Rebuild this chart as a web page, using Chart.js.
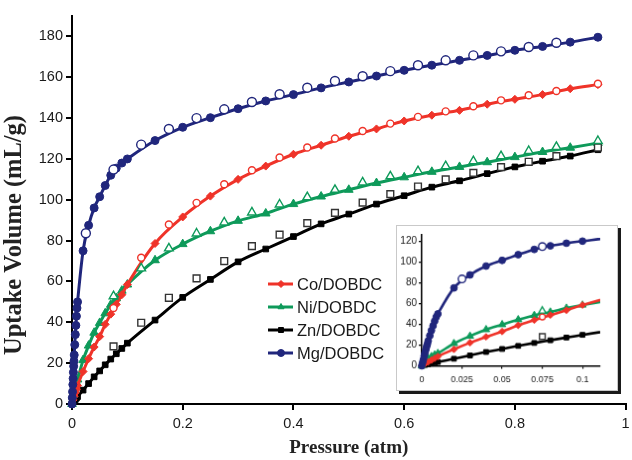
<!DOCTYPE html>
<html>
<head>
<meta charset="utf-8">
<script src="https://cdn.jsdelivr.net/npm/chart.js@4.4.1/dist/chart.umd.min.js"></script>
<style>
  body { margin: 0; background: #fff; }
  #wrap { position: relative; width: 632px; height: 460px; }
  #main { display: block; }
  #inset {
    position: absolute; left: 396px; top: 225px;
    border: 1px solid #c9c9c9; box-shadow: 3px 3px 0 #1a1a1a; background: #fff;
  }
</style>
</head>
<body>
<div id="wrap">
  <canvas id="main" width="632" height="460"></canvas>
  <canvas id="inset" width="222" height="166"></canvas>
</div>
<script>
// uptake isotherms, [pressure atm, mL/g]; ads = filled markers, des = open markers
const materials = ['Co/DOBDC', 'Ni/DOBDC', 'Zn/DOBDC', 'Mg/DOBDC'];

const coAds = [[0,0],[0.002,2],[0.004,3.8],[0.006,5.5],[0.008,7.2],[0.01,9],[0.02,15.9],[0.03,22.2],[0.04,27.9],[0.05,33],[0.06,39],[0.07,44],[0.08,48.8],[0.09,53.5],[0.1,58.5],[0.15,78.6],[0.2,91.6],[0.25,101.8],[0.3,110],[0.35,116.5],[0.4,122.3],[0.45,126.7],[0.5,131.1],[0.55,134.7],[0.6,138.6],[0.65,141.4],[0.7,143.8],[0.75,146.8],[0.8,149.2],[0.85,151.5],[0.9,154.4],[0.95,156.4]];
const coDes = [[0.075,47],[0.125,71.6],[0.175,87.9],[0.225,98.5],[0.275,107.6],[0.325,114.5],[0.375,120.7],[0.425,125.6],[0.475,130],[0.525,133.7],[0.575,137.3],[0.625,140.6],[0.675,143.3],[0.725,145.8],[0.775,148.7],[0.825,151.2],[0.875,153.3],[0.95,156.8]];

const niAds = [[0,0],[0.002,4.5],[0.004,7],[0.006,9],[0.008,10.5],[0.01,12],[0.02,21.5],[0.03,28.6],[0.04,34.9],[0.05,39.7],[0.06,44.4],[0.07,48.6],[0.08,51.8],[0.09,55.5],[0.1,58.5],[0.15,70.4],[0.2,78.3],[0.25,84.6],[0.3,89.7],[0.35,93.3],[0.4,97.9],[0.45,101.6],[0.5,104.9],[0.55,108.2],[0.6,111],[0.65,113.7],[0.7,116.1],[0.75,118.4],[0.8,120.9],[0.85,123.4],[0.9,125.5],[0.95,127.8]];
const niDes = [[0.075,52.8],[0.125,66.4],[0.175,76.2],[0.225,83.5],[0.275,88.9],[0.325,93.8],[0.375,97.7],[0.425,101.3],[0.475,104.9],[0.525,108.5],[0.575,111.5],[0.625,114],[0.675,116.5],[0.725,118.9],[0.775,121.4],[0.825,123.9],[0.875,125.9],[0.95,128.8]];

const znAds = [[0,0],[0.002,0.8],[0.004,1.5],[0.006,2.2],[0.008,2.9],[0.01,3.6],[0.02,6.8],[0.03,10],[0.04,13.3],[0.05,16.2],[0.06,19.2],[0.07,22],[0.08,24.6],[0.09,27.2],[0.1,29.8],[0.15,41.1],[0.2,52.2],[0.25,61],[0.3,69.6],[0.35,75.9],[0.4,82],[0.45,88.2],[0.5,93],[0.55,97.9],[0.6,102],[0.65,106.2],[0.7,109.3],[0.75,112.8],[0.8,116.1],[0.85,118.9],[0.9,121.4],[0.95,124.5]];
const znDes = [[0.075,28.2],[0.125,39.8],[0.175,52],[0.225,61.5],[0.275,70],[0.325,77.3],[0.375,82.9],[0.425,88.6],[0.475,93.6],[0.525,98.6],[0.575,102.8],[0.625,106.5],[0.675,110],[0.725,113.2],[0.775,116],[0.825,118.6],[0.875,121.4],[0.95,125.6]];

const mgAds = [[0,0],[0.0005,3],[0.001,6],[0.0015,9.5],[0.002,12.5],[0.0025,15.5],[0.003,18.5],[0.0035,21],[0.004,24],[0.005,29],[0.006,34],[0.007,38.5],[0.008,43],[0.009,47],[0.01,50],[0.02,75],[0.03,87.5],[0.04,96],[0.05,101.5],[0.06,107],[0.07,112],[0.08,115.5],[0.09,118],[0.1,120],[0.15,129],[0.2,135.5],[0.25,140.2],[0.3,144.6],[0.35,148.4],[0.4,151.5],[0.45,154.8],[0.5,157.7],[0.55,160.6],[0.6,163.4],[0.65,165.9],[0.7,168.3],[0.75,170.7],[0.8,173.2],[0.85,175.1],[0.9,177.2],[0.95,179.6]];
const mgDes = [[0.025,83.6],[0.075,114.8],[0.125,127],[0.175,134.7],[0.225,140],[0.275,144.3],[0.325,147.9],[0.375,151.7],[0.425,154.9],[0.475,158.2],[0.525,160.5],[0.575,163],[0.625,165.9],[0.675,168.3],[0.725,170.7],[0.775,172.7],[0.825,174.8],[0.875,176.9]];

const mainTicksX = [0, 0.2, 0.4, 0.6, 0.8, 1];
const insetTicksX = [0, 0.025, 0.05, 0.075, 0.1];

const RED = '#ef3329', GREEN = '#0e9a5a', BLACK = '#000000', NAVY = '#20267c';
const styles = [
  { color: RED,   ads: coAds, des: coDes, shape: 'rectRot',  r: 4,   openShape: 'circle',   openR: 3.5, openColor: RED },
  { color: GREEN, ads: niAds, des: niDes, shape: 'triangle', r: 5,   openShape: 'triangle', openR: 5,   openColor: GREEN },
  { color: BLACK, ads: znAds, des: znDes, shape: 'rect',     r: 4,   openShape: 'rect',     openR: 4.8, openColor: '#333' },
  { color: NAVY,  ads: mgAds, des: mgDes, shape: 'circle',   r: 4,   openShape: 'circle',   openR: 4.5, openColor: NAVY }
];

const SANS = "'Liberation Sans', Arial, sans-serif";
const SERIF = "'Liberation Serif', 'Times New Roman', serif";
const pts = a => a.map(([x, y]) => ({ x, y }));
const tickFmt = v => String(+v.toFixed(3));

function buildSets(small, clip) {
  const k = small ? 0.85 : 1;
  const open = styles.map((s, i) => ({
    label: materials[i] + ' des',
    data: pts(s.des),
    showLine: false,
    pointStyle: s.openShape,
    pointRadius: s.openR * k,
    pointBackgroundColor: '#fff',
    pointBorderColor: s.openColor,
    pointBorderWidth: 1.4,
    clip: clip
  }));
  // Mg on top, then Co, Ni, Zn
  const order = [3, 0, 1, 2];
  const filled = order.map(i => {
    const s = styles[i];
    return {
      label: materials[i],
      data: pts(s.ads),
      showLine: true,
      borderColor: s.color,
      borderWidth: small ? 2.6 : 3,
      cubicInterpolationMode: 'monotone',
      pointStyle: s.shape,
      pointRadius: s.r * k,
      pointBackgroundColor: s.color,
      pointBorderColor: s.color,
      pointBorderWidth: 1,
      clip: clip
    };
  });
  return open.concat(filled);
}

const legendBox = {
  id: 'legendBox',
  afterDraw(chart) {
    const ctx = chart.ctx;
    ctx.save();
    ctx.font = '16.5px ' + SANS;
    ctx.textBaseline = 'middle';
    materials.forEach((name, i) => {
      const s = styles[i];
      const y = 284 + i * 23;
      ctx.strokeStyle = s.color;
      ctx.lineWidth = 3;
      ctx.beginPath();
      ctx.moveTo(268, y);
      ctx.lineTo(293, y);
      ctx.stroke();
      ctx.fillStyle = s.color;
      ctx.lineWidth = 1;
      Chart.helpers.drawPoint(ctx, { pointStyle: s.shape, radius: 3.5, rotation: 0, borderWidth: 1 }, 281, y);
      ctx.fillStyle = '#1a1a1a';
      ctx.fillText(name, 297, y + 1);
    });
    ctx.restore();
  }
};

const yTitle = {
  id: 'yTitle',
  afterDraw(chart) {
    const ctx = chart.ctx;
    ctx.save();
    ctx.translate(15, 235);
    ctx.rotate(-Math.PI / 2);
    ctx.font = 'bold 24.5px ' + SERIF;
    ctx.fillStyle = '#222';
    ctx.textAlign = 'center';
    ctx.textBaseline = 'middle';
    ctx.fillText('Uptake Volume (mL/g)', 0, 0);
    ctx.restore();
  }
};

new Chart(document.getElementById('main'), {
  type: 'scatter',
  data: { datasets: buildSets(false, 8) },
  options: {
    responsive: false,
    animation: false,
    layout: { padding: { top: 16, right: 2 } },
    plugins: { legend: { display: false }, tooltip: { enabled: false } },
    scales: {
      x: {
        min: 0, max: 1,
        afterBuildTicks: s => { s.ticks = mainTicksX.map(v => ({ value: v })); },
        border: { color: '#000', width: 2 },
        grid: { drawOnChartArea: false, color: '#000', lineWidth: 2, tickLength: 6 },
        ticks: { padding: 5, color: '#1a1a1a', font: { family: SANS, size: 14.5 }, callback: tickFmt },
        title: { display: true, text: 'Pressure (atm)', color: '#222', font: { family: SERIF, size: 19, weight: 'bold' }, padding: { top: 0, bottom: 1 } },
        afterFit: s => { s.height = 56; s.paddingRight = 0; }
      },
      y: {
        min: 0, max: 190,
        border: { color: '#000', width: 2 },
        grid: { drawOnChartArea: false, color: '#000', lineWidth: 2, tickLength: 6 },
        ticks: { stepSize: 20, includeBounds: false, padding: 3, color: '#1a1a1a', font: { family: SANS, size: 14.5 } },
        afterFit: s => { s.width = 72; }
      }
    }
  },
  plugins: [legendBox, yTitle]
});

new Chart(document.getElementById('inset'), {
  type: 'scatter',
  data: { datasets: buildSets(true, { left: 6, top: 6, bottom: 6, right: 0 }) },
  options: {
    responsive: false,
    animation: false,
    layout: { padding: { top: 9, right: 17 } },
    plugins: { legend: { display: false }, tooltip: { enabled: false } },
    scales: {
      x: {
        min: 0, max: 0.111,
        afterBuildTicks: s => { s.ticks = insetTicksX.map(v => ({ value: v })); },
        border: { color: '#000', width: 1.5 },
        grid: { drawOnChartArea: false, color: '#000', lineWidth: 1.2, tickLength: 3 },
        ticks: { padding: 6, color: '#1a1a1a', font: { family: SANS, size: 9 }, callback: tickFmt },
        afterFit: s => { s.height = 24.5; }
      },
      y: {
        min: 0, max: 126,
        border: { color: '#000', width: 1.5 },
        grid: { drawOnChartArea: false, color: '#000', lineWidth: 1.2, tickLength: 3 },
        ticks: { stepSize: 20, includeBounds: false, padding: 2, color: '#1a1a1a', font: { family: SANS, size: 10 } },
        afterFit: s => { s.width = 25; }
      }
    }
  }
});
</script>
</body>
</html>
